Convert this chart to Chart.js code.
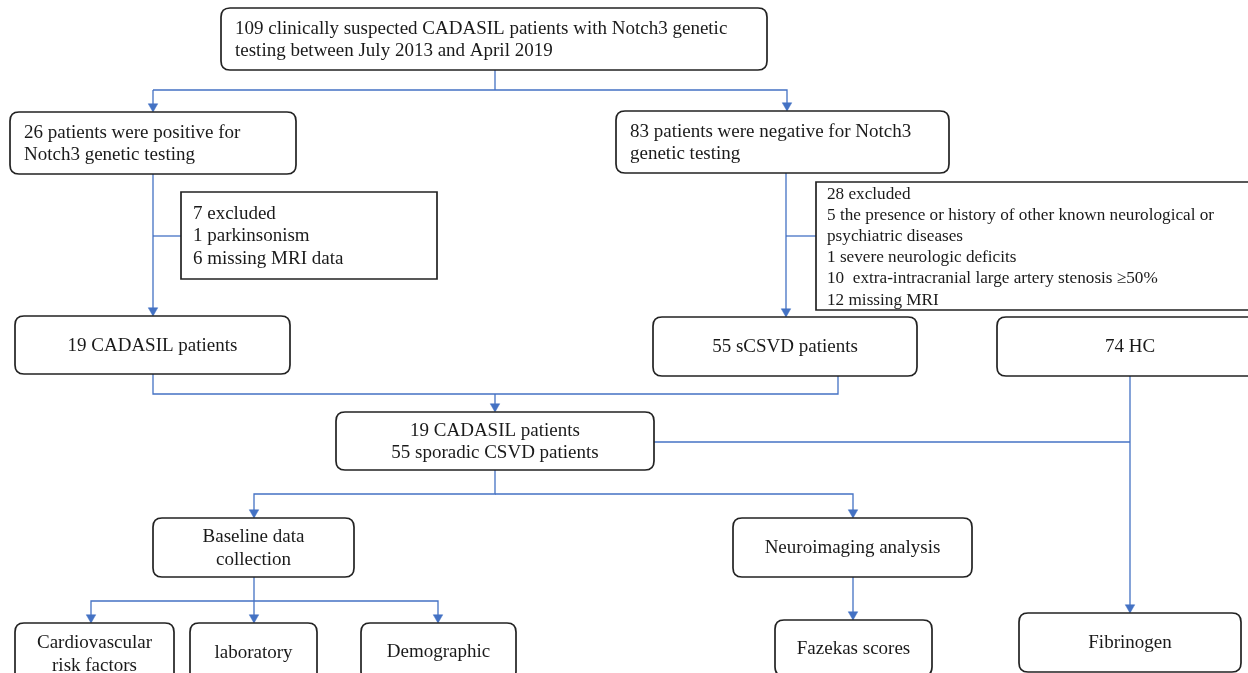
<!DOCTYPE html>
<html>
<head>
<meta charset="utf-8">
<script src="https://cdn.jsdelivr.net/npm/chart.js@4"></script>
<style>
  html, body { margin: 0; padding: 0; background: #fff; }
  #wrap { width: 1248px; height: 673px; position: relative; }
</style>
</head>
<body>
<div id="wrap"><canvas id="flow"></canvas></div>
<script>
// box texts, one entry per node
const nodeLines = [
  ["109 clinically suspected CADASIL patients with Notch3 genetic", "testing between July 2013 and April 2019"],
  ["26 patients were positive for", "Notch3 genetic testing"],
  ["83 patients were negative for Notch3", "genetic testing"],
  ["7 excluded", "1 parkinsonism", "6 missing MRI data"],
  ["28 excluded", "5 the presence or history of other known neurological or", "psychiatric diseases", "1 severe neurologic deficits", "10  extra-intracranial large artery stenosis \u226550%", "12 missing MRI"],
  ["19 CADASIL patients"],
  ["55 sCSVD patients"],
  ["74 HC"],
  ["19 CADASIL patients", "55 sporadic CSVD patients"],
  ["Baseline data", "collection"],
  ["Neuroimaging analysis"],
  ["Cardiovascular", "risk factors"],
  ["laboratory"],
  ["Demographic"],
  ["Fazekas scores"],
  ["Fibrinogen"]
]
// node extents in the flowchart's own units
const nodeLeft   = [221, 10, 616, 181, 816, 15, 653, 997, 336, 153, 733, 15, 190, 361, 775, 1019]
const nodeTop    = [8, 112, 111, 192, 182, 316, 317, 317, 412, 518, 518, 623, 623, 623, 620, 613]
const nodeRight  = [767, 296, 949, 437, 1262, 290, 917, 1263, 654, 354, 972, 174, 317, 516, 932, 1241]
const nodeBottom = [70, 174, 173, 279, 310, 374, 376, 376, 470, 577, 577, 684, 682, 680, 676, 672]
const nodeKind   = ["round", "round", "round", "square", "square", "round", "round", "round", "round", "round", "round", "round", "round", "round", "round", "round"]
const nodeAlign  = ["left", "left", "left", "left", "left", "center", "center", "center", "center", "center", "center", "center", "center", "center", "center", "center"]

// connector polylines
const links = [
  [[495, 70], [495, 90]],
  [[153, 90], [787, 90], [787, 110]],
  [[153, 90], [153, 111]],
  [[153, 174], [153, 315]],
  [[153, 236], [181, 236]],
  [[786, 173], [786, 316]],
  [[786, 236], [816, 236]],
  [[153, 374], [153, 394], [838, 394], [838, 376]],
  [[495, 394], [495, 411]],
  [[654, 442], [1130, 442]],
  [[1130, 376], [1130, 612]],
  [[495, 470], [495, 494], [254, 494], [254, 517]],
  [[495, 494], [853, 494], [853, 517]],
  [[254, 577], [254, 622]],
  [[254, 601], [91, 601], [91, 622]],
  [[254, 601], [438, 601], [438, 622]],
  [[853, 577], [853, 619]]
]
// where arrow heads touch a box
const arrowTips = [[153, 112], [787, 111], [153, 316], [786, 317], [495, 412], [1130, 613], [254, 518], [853, 518], [91, 623], [254, 623], [438, 623], [853, 620]]

const blue = "#4472C4"
const headR = 5.5

const datasets = links.map(path => ({
  data: path.map(p => ({ x: p[0], y: p[1] })),
  showLine: true,
  borderColor: blue,
  borderWidth: 1.3,
  pointRadius: 0,
  pointHoverRadius: 0
}))
datasets.push({
  data: arrowTips.map(p => ({ x: p[0], y: p[1] - headR })),
  showLine: false,
  pointStyle: "triangle",
  rotation: 180,
  pointRadius: headR,
  pointHoverRadius: headR,
  backgroundColor: blue,
  borderColor: blue,
  borderWidth: 0.5
})

function roundRect(ctx, x0, y0, x1, y1, r) {
  ctx.beginPath()
  ctx.moveTo(x0 + r, y0)
  ctx.lineTo(x1 - r, y0)
  ctx.quadraticCurveTo(x1, y0, x1, y0 + r)
  ctx.lineTo(x1, y1 - r)
  ctx.quadraticCurveTo(x1, y1, x1 - r, y1)
  ctx.lineTo(x0 + r, y1)
  ctx.quadraticCurveTo(x0, y1, x0, y1 - r)
  ctx.lineTo(x0, y0 + r)
  ctx.quadraticCurveTo(x0, y0, x0 + r, y0)
  ctx.closePath()
}

const boxPlugin = {
  id: "boxes",
  afterDatasetsDraw(chart) {
    const ctx = chart.ctx
    const xs = chart.scales.x
    const ys = chart.scales.y
    ctx.save()
    nodeLines.forEach((lines, i) => {
      const x0 = xs.getPixelForValue(nodeLeft[i])
      const x1 = xs.getPixelForValue(nodeRight[i])
      const y0 = ys.getPixelForValue(nodeTop[i])
      const y1 = ys.getPixelForValue(nodeBottom[i])
      ctx.fillStyle = "#fff"
      ctx.strokeStyle = "#222"
      ctx.lineWidth = 1.7
      let pad = 14
      if (nodeKind[i] == "round") {
        roundRect(ctx, x0, y0, x1, y1, 9)
      } else {
        ctx.beginPath()
        ctx.rect(x0, y0, x1 - x0, y1 - y0)
        pad = 12
      }
      ctx.fill()
      ctx.stroke()

      const small = lines.length > 4
      const lh = small ? 21.2 : 22.5
      ctx.font = (small ? "17.2px" : "19px") + " 'Liberation Serif', 'Times New Roman', serif"
      ctx.fillStyle = "#1a1a1a"
      ctx.textBaseline = "middle"
      const cy = (y0 + y1) / 2 + 1
      const startY = cy - (lines.length - 1) * lh / 2
      lines.forEach((t, k) => {
        if (nodeAlign[i] == "left") {
          ctx.textAlign = "left"
          ctx.fillText(t, x0 + (small ? 11 : pad), startY + k * lh)
        } else {
          ctx.textAlign = "center"
          ctx.fillText(t, (x0 + x1) / 2, startY + k * lh)
        }
      })
    })
    ctx.restore()
  }
}

new Chart(document.getElementById("flow").getContext("2d"), {
  type: "scatter",
  data: { datasets: datasets },
  options: {
    responsive: true,
    maintainAspectRatio: false,
    animation: false,
    layout: { padding: 0, autoPadding: false },
    plugins: { legend: { display: false }, tooltip: { enabled: false } },
    scales: {
      x: { type: "linear", min: 0, max: 1248, display: false },
      y: { type: "linear", min: 0, max: 673, reverse: true, display: false }
    }
  },
  plugins: [boxPlugin]
})
</script>
</body>
</html>
